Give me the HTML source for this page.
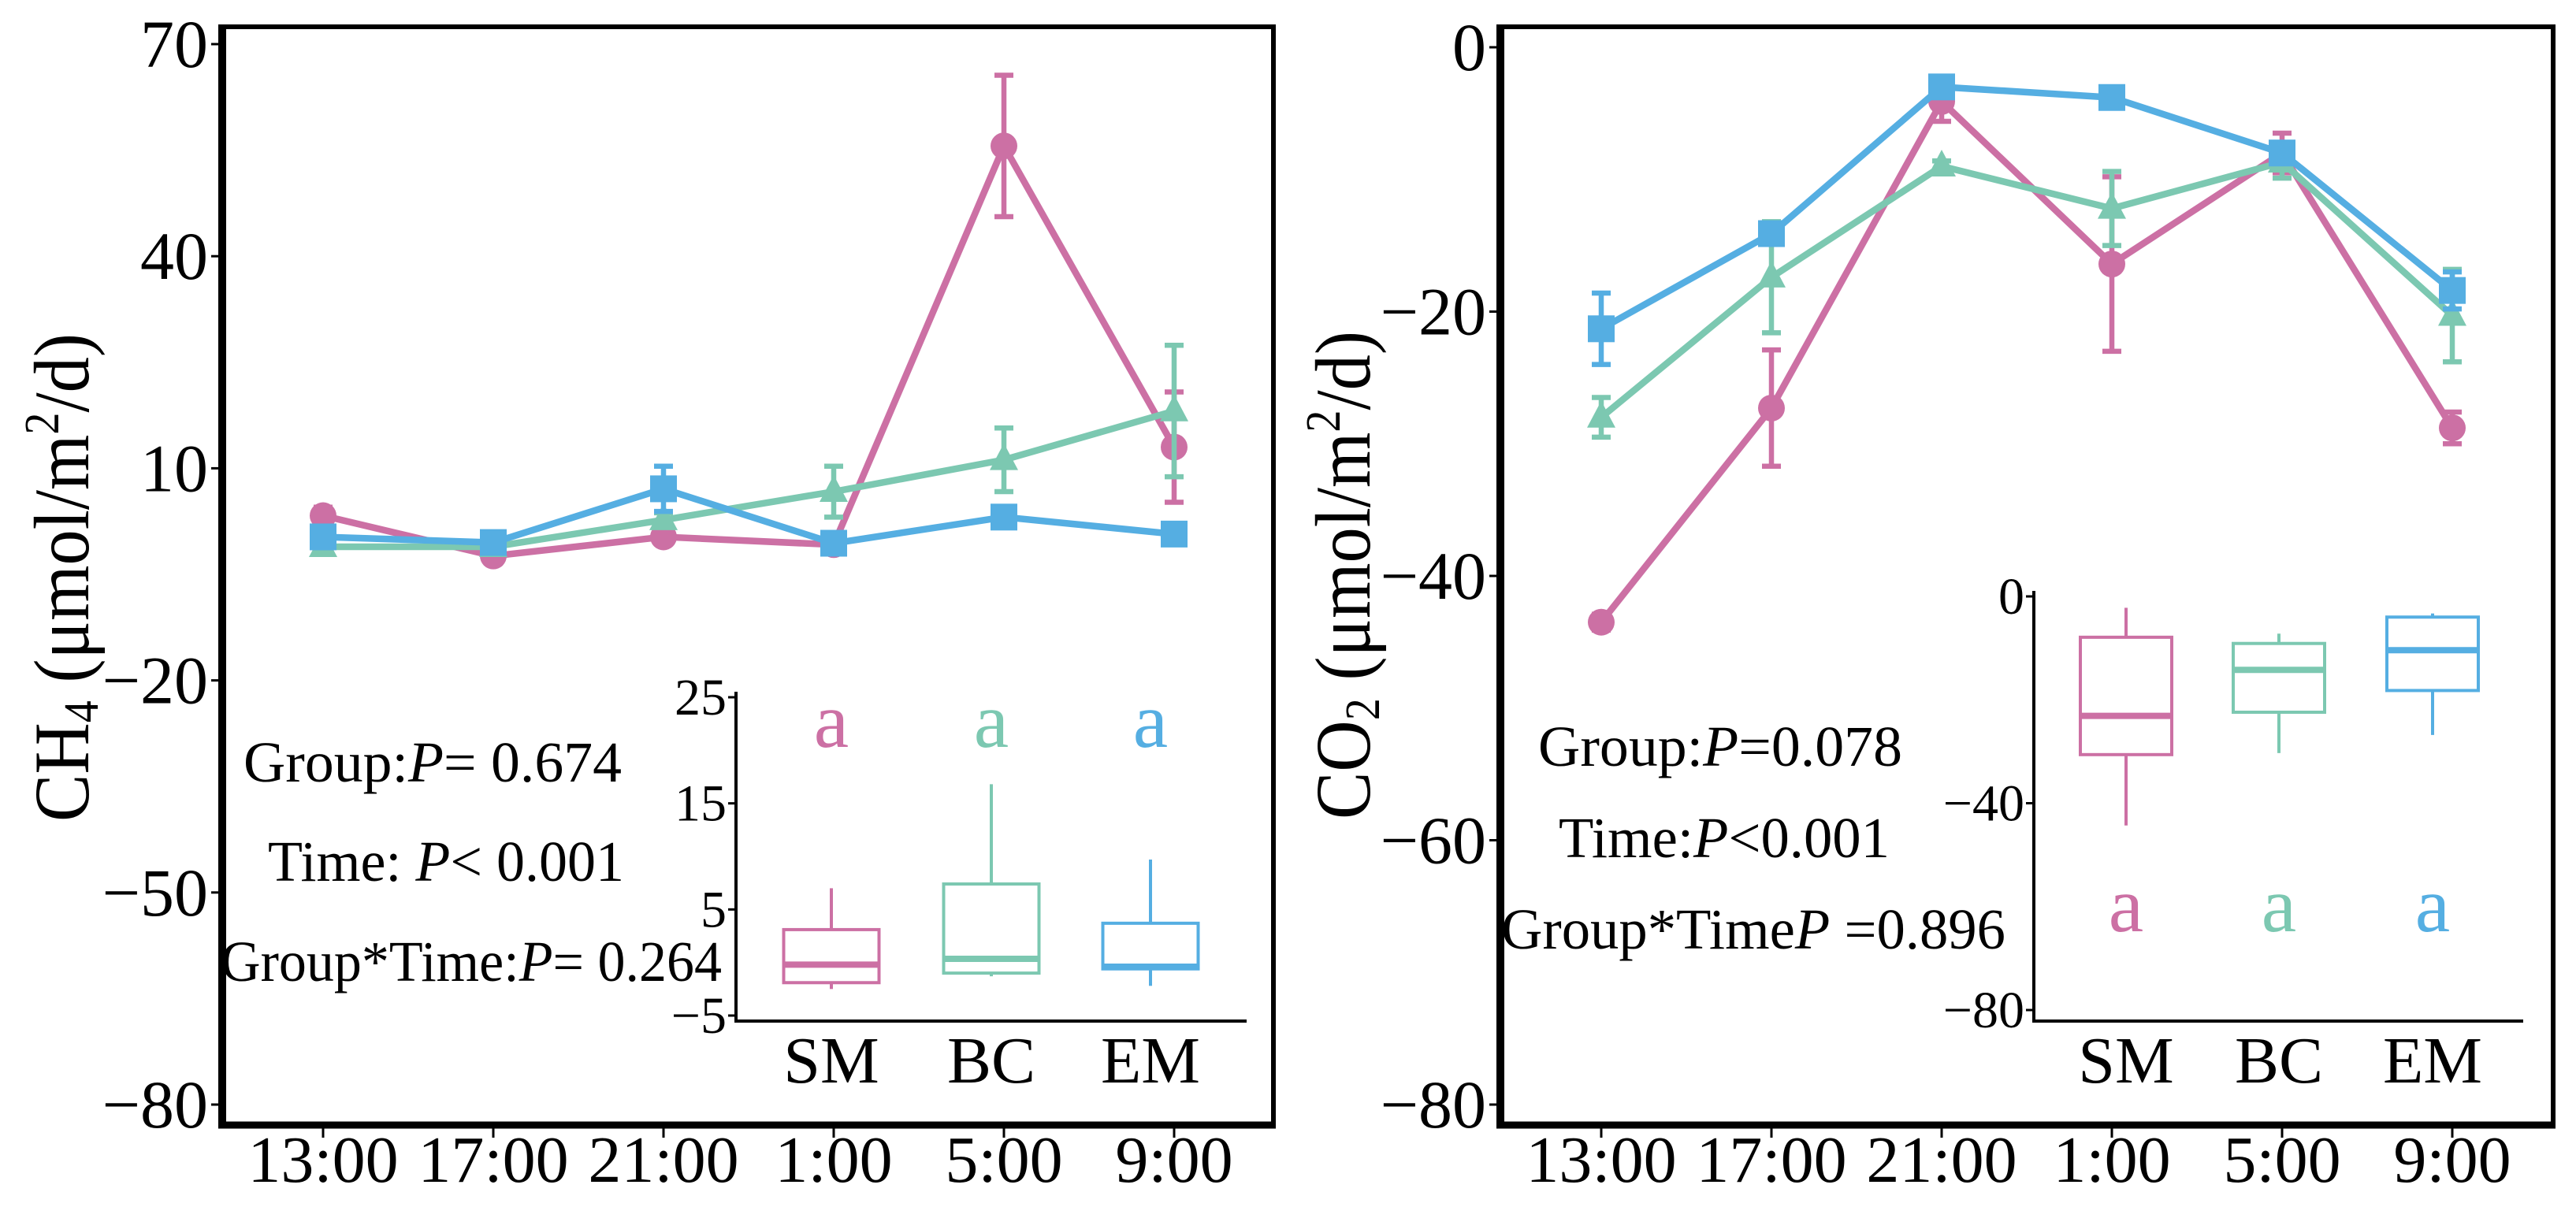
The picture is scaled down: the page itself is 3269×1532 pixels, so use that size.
<!DOCTYPE html>
<html><head><meta charset="utf-8">
<style>
html,body{margin:0;padding:0;background:#fff;}
svg{display:block;font-family:"Liberation Serif","Times New Roman",serif;}
</style></head>
<body>
<svg id="chart" width="3269" height="1532" viewBox="0 0 3269 1532" xmlns="http://www.w3.org/2000/svg"></svg>
<script>
// ---- data ----
const timeLabels = ["13:00","17:00","21:00","1:00","5:00","9:00"];
const groups = ["SM","BC","EM"];
// CH4 panel
const ch4Ticks = [70,40,10,-20,-50,-80];
const ch4SM = [3.3,-2.4,0.3,-0.8,55.6,13];
const ch4SMerr = [1.2,0.5,0.5,0.5,10,7.8];
const ch4BC = [-1.1,-1.1,2.7,6.7,11.2,18.1];
const ch4BCerr = [0.5,0.5,1,3.6,4.5,9.3];
const ch4EM = [0.3,-0.5,7.1,-0.6,3.1,0.7];
const ch4EMerr = [0.8,0.6,3.2,0.5,1,0.5];
// CO2 panel
const co2Ticks = [0,-20,-40,-60,-80];
const co2SM = [-43.5,-27.3,-4.1,-16.4,-8,-28.8];
const co2SMerr = [0.6,4.4,1.5,6.6,1.5,1.2];
const co2BC = [-28,-17.4,-9,-12.2,-8.7,-20.3];
const co2BCerr = [1.5,4.2,0.4,2.8,1.2,3.5];
const co2EM = [-21.3,-14.1,-3,-3.8,-8,-18.4];
const co2EMerr = [2.7,0.8,0.6,0.3,0.5,1.4];
// inset boxplots: [low, q1, median, q3, high]
const ch4InsetTicks = [25,15,5,-5];
const ch4BoxSM = [-2.5,-1.9,-0.2,3.1,7.0];
const ch4BoxBC = [-1.3,-1.0,0.35,7.4,16.8];
const ch4BoxEM = [-2.2,-0.6,-0.4,3.7,9.7];
const co2InsetTicks = [0,-40,-80];
const co2BoxSM = [-44.3,-30.6,-23.1,-7.9,-2.2];
const co2BoxBC = [-30.3,-22.4,-14.2,-9.1,-7.2];
const co2BoxEM = [-26.8,-18.2,-10.4,-4.0,-3.3];

const colors = {SM:"#cc70a4", BC:"#7cc8b1", EM:"#55aee2"};
const NS = "http://www.w3.org/2000/svg";
const svg = document.getElementById("chart");

function mk(tag, attrs, parent){
  const e = document.createElementNS(NS, tag);
  for (const k in attrs) e.setAttribute(k, attrs[k]);
  (parent||svg).appendChild(e);
  return e;
}
function txt(str, attrs, parent){
  const e = mk("text", attrs, parent);
  e.textContent = str;
  return e;
}

function panel(cfg){
  const g = mk("g", {});
  
  
  const yScale = v => cfg.y0px + (cfg.ymax - v) * (cfg.y1px - cfg.y0px) / (cfg.ymax - cfg.ymin);
  const xScale = i => cfg.x0 + i * cfg.dx;
  const fr = mk("rect", {x:cfg.left, y:cfg.top, width:cfg.right-cfg.left, height:cfg.bottom-cfg.top, fill:"none", stroke:"#000", "stroke-width":6}, g);
  
  
  const ls = mk("line", {x1:cfg.left, y1:cfg.top-3, x2:cfg.left, y2:cfg.bottom+4, stroke:"#000", "stroke-width":10}, g);
  
  
  const bs = mk("line", {x1:cfg.left-5, y1:cfg.bottom, x2:cfg.right+3, y2:cfg.bottom, stroke:"#000", "stroke-width":9}, g);
  
  
  cfg.ticks.forEach(t => {
    const y = yScale(t);
    const tk = mk("line", {x1:cfg.left-14, y1:y, x2:cfg.left, y2:y, stroke:"#000", "stroke-width":3}, g);
    
    
    const lb = txt(t < 0 ? "\u2212" + Math.abs(t) : String(t), {x:cfg.left-18, y:y+29, "font-size":86, "text-anchor":"end"}, g);
    
    
  });
  timeLabels.forEach((l,i) => {
    const x = xScale(i);
    const tk = mk("line", {x1:x, y1:cfg.bottom, x2:x, y2:cfg.bottom+16, stroke:"#000", "stroke-width":3}, g);
    
    
    const lb = txt(l, {x:x, y:1500, "font-size":84, "text-anchor":"middle"}, g);
    
    
  });
  const tt = txt("", {transform:`translate(${cfg.titleX},${cfg.titleY}) rotate(-90)`, "font-size":100, "text-anchor":"middle", textLength:620, lengthAdjust:"spacingAndGlyphs"}, g);
  
  
  const parts = [[cfg.gas,0],[cfg.sub,1],[" (\u03bcmol/m",0],["2",2],["/d)",0]];
  parts.forEach(p => {
    const ts = mk("tspan", {}, tt);
    ts.textContent = p[0];
    if (p[1]===1){ ts.setAttribute("font-size", 62); ts.setAttribute("baseline-shift", "-12"); }
    if (p[1]===2){ ts.setAttribute("font-size", 62); ts.setAttribute("baseline-shift", "38"); }
  });
  cfg.series.forEach(s => {
    const sg = mk("g", {}, g);
    
    
    const c = colors[s.key];
    const pts = s.vals.map((v,i) => xScale(i) + "," + yScale(v)).join(" ");
    const pl = mk("polyline", {points:pts, fill:"none", stroke:c, "stroke-width":8.5, "stroke-linejoin":"round"}, sg);
    
    
    s.vals.forEach((v,i) => {
      const x = xScale(i), y = yScale(v), e = s.err[i];
      const eb = mk("path", {d:`M${x},${yScale(v+e)}V${yScale(v-e)}M${x-12},${yScale(v+e)}H${x+12}M${x-12},${yScale(v-e)}H${x+12}`, stroke:c, "stroke-width":6.5, fill:"none"}, sg);
      
      
      let m;
      if (s.key==="SM") m = mk("circle", {cx:x, cy:y, r:17, fill:c}, sg);
      else if (s.key==="BC") m = mk("polygon", {points:`${x},${y-21} ${x+18},${y+13} ${x-18},${y+13}`, fill:c}, sg);
      else m = mk("rect", {x:x-17, y:y-17, width:34, height:34, fill:c}, sg);
      
      
    });
  });
  cfg.stats.forEach(st => {
    const t = txt("", {x:st.x, y:st.y, "font-size":73, textLength:st.w, lengthAdjust:"spacingAndGlyphs"}, g);
    
    
    st.parts.forEach(p => {
      const ts = mk("tspan", {}, t);
      ts.textContent = p[0];
      if (p[1]) ts.setAttribute("font-style","italic");
    });
  });
  const ig = mk("g", {}, g);
  
  
  const I = cfg.inset;
  const iy = v => I.y0px + (I.ymax - v) * (I.y1px - I.y0px) / (I.ymax - I.ymin);
  const iax = mk("path", {d:`M${I.left},${I.top}V${I.bottom}H${I.right}`, fill:"none", stroke:"#000", "stroke-width":4}, ig);
  
  
  I.ticks.forEach(t => {
    const y = iy(t);
    const tk = mk("line", {x1:I.left-10, y1:y, x2:I.left, y2:y, stroke:"#000", "stroke-width":3}, ig);
    
    
    const lb = txt(t < 0 ? "\u2212" + Math.abs(t) : String(t), {x:I.left-12, y:y+22, "font-size":66, "text-anchor":"end"}, ig);
    
    
  });
  groups.forEach((gname,i) => {
    const b = I.boxes[i], x = I.cx[i], c = colors[gname], hw = I.bw/2;
    const bx = mk("g", {}, ig);
    
    
    mk("line", {x1:x, y1:iy(b[4]), x2:x, y2:iy(b[3]), stroke:c, "stroke-width":4}, bx);
    mk("line", {x1:x, y1:iy(b[1]), x2:x, y2:iy(b[0]), stroke:c, "stroke-width":4}, bx);
    mk("rect", {x:x-hw, y:iy(b[3]), width:I.bw, height:iy(b[1])-iy(b[3]), fill:"#fff", stroke:c, "stroke-width":4}, bx);
    mk("line", {x1:x-hw, y1:iy(b[2]), x2:x+hw, y2:iy(b[2]), stroke:c, "stroke-width":8}, bx);
    const lt = txt("a", {x:x, y:I.letterY, "font-size":100, "text-anchor":"middle", fill:c}, ig);
    
    
    const xl = txt(gname, {x:x, y:I.bottom+78, "font-size":84, "text-anchor":"middle"}, ig);
    
    
  });
}

panel({
  name:"ch4-panel", left:282, right:1616, top:34, bottom:1428,
  ymax:70, ymin:-80, y0px:56, y1px:1402, x0:410, dx:216,
  ticks:ch4Ticks, gas:"CH", sub:"4", titleX:112, titleY:733,
  series:[{key:"SM",vals:ch4SM,err:ch4SMerr},{key:"BC",vals:ch4BC,err:ch4BCerr},{key:"EM",vals:ch4EM,err:ch4EMerr}],
  stats:[
    {x:309, y:992, w:480, parts:[["Group:",0],["P",1],["= 0.674",0]]},
    {x:340, y:1118, w:452, parts:[["Time: ",0],["P",1],["< 0.001",0]]},
    {x:280, y:1245, w:636, parts:[["Group*Time:",0],["P",1],["= 0.264",0]]}
  ],
  inset:{left:934, right:1582, top:878, bottom:1296, ymax:25, ymin:-5, y0px:885, y1px:1289,
    ticks:ch4InsetTicks, cx:[1055,1258,1460], bw:121, boxes:[ch4BoxSM,ch4BoxBC,ch4BoxEM], letterY:948}
});
panel({
  name:"co2-panel", left:1904, right:3240, top:34, bottom:1428,
  ymax:0, ymin:-80, y0px:60, y1px:1402, x0:2032, dx:216,
  ticks:co2Ticks, gas:"CO", sub:"2", titleX:1738, titleY:730,
  series:[{key:"SM",vals:co2SM,err:co2SMerr},{key:"BC",vals:co2BC,err:co2BCerr},{key:"EM",vals:co2EM,err:co2EMerr}],
  stats:[
    {x:1952, y:972, w:462, parts:[["Group:",0],["P",1],["=0.078",0]]},
    {x:1978, y:1088, w:420, parts:[["Time:",0],["P",1],["<0.001",0]]},
    {x:1905, y:1204, w:640, parts:[["Group*Time",0],["P",1],[" =0.896",0]]}
  ],
  inset:{left:2581, right:3202, top:750, bottom:1296, ymax:0, ymin:-80, y0px:757, y1px:1282,
    ticks:co2InsetTicks, cx:[2698,2892,3087], bw:116, boxes:[co2BoxSM,co2BoxBC,co2BoxEM], letterY:1182}
});
</script>
</body></html>
